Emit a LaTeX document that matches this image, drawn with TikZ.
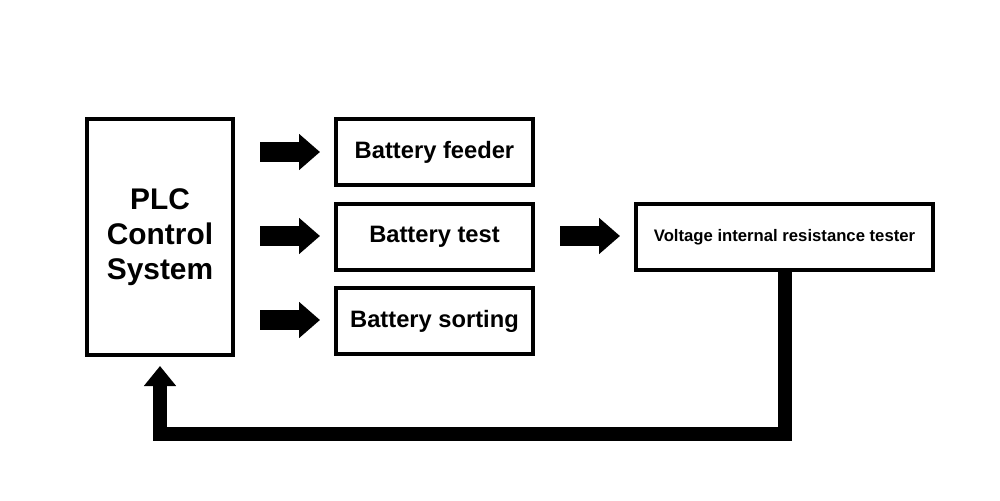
\documentclass[tikz,border=0pt]{standalone}
\usepackage{fontspec}
\setmainfont{Liberation Sans}
\usetikzlibrary{arrows.meta}
\begin{document}
\begin{tikzpicture}[x=0.02cm, y=-0.02cm]
   \tikzstyle{box} = [draw, line width=2.5pt, inner sep=0pt, font=\bfseries];
   \tikzstyle{blk} = [line width=0.4cm, -{Triangle[width=0.7cm, length=0.42cm]}];
   \tikzstyle{fb} = [line width=0.28cm, -{Triangle[width=0.62cm, length=0.4cm]}];

   \useasboundingbox (0,0) rectangle (1000,500);

    \node[box, minimum width=2.92cm, minimum height=4.72cm,
          align=center, font=\bfseries\fontsize{17}{20}\selectfont]
          (plc) at (160,237) {PLC\\Control\\System};
    \node[box, minimum width=3.94cm, minimum height=1.32cm,
          font=\bfseries\fontsize{13.5}{16}\selectfont] (feed) at (434.5,152) {Battery feeder};
    \node[box, minimum width=3.94cm, minimum height=1.32cm,
          font=\bfseries\fontsize{13.5}{16}\selectfont] (test) at (434.5,237) {Battery test};
    \node[box, minimum width=3.94cm, minimum height=1.32cm,
          font=\bfseries\fontsize{13.5}{16}\selectfont] (sort) at (434.5,321) {Battery sorting};
    \node[box, minimum width=5.94cm, minimum height=1.32cm,
          font=\bfseries\fontsize{9.5}{12}\selectfont] (volt) at (784.5,237) {Voltage internal resistance tester};

    \coordinate (f1) at (260,152);
    \coordinate (t1) at (260,236);
    \coordinate (s1) at (260,320);
    \coordinate (v1) at (560,236);
    \coordinate (f2) at (320,152);
    \coordinate (t2) at (320,236);
    \coordinate (s2) at (320,320);
    \coordinate (v2) at (620,236);

    \draw[blk] (f1) -- (f2);
    \draw[blk] (t1) -- (t2);
    \draw[blk] (s1) -- (s2);
    \draw[blk] (v1) -- (v2);

    %% feedback to the PLC
    \draw[fb] (volt.south -| 785,0) |- (160,434) -- (plc.south |- 0,366);

\end{tikzpicture}
\end{document}
